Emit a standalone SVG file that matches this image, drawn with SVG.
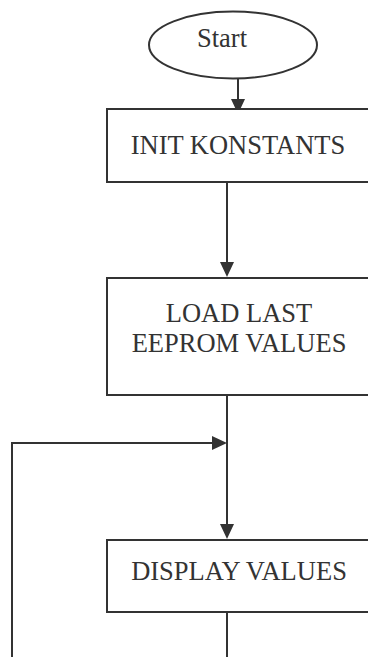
<svg xmlns="http://www.w3.org/2000/svg" width="368" height="657" viewBox="0 0 368 657">
<defs>
<style>
.shape{fill:#fff;stroke:#333;stroke-width:2}
.lbl{font-family:'Liberation Serif','Times New Roman','DejaVu Serif',serif;font-size:26.5px;fill:#333;text-anchor:middle}
.conn{fill:none;stroke:#333;stroke-width:2}
.head{fill:#333;stroke:none}
</style>
</defs>
<rect width="368" height="657" fill="#fff"/>
<g id="connectors">
<line class="conn" x1="238" y1="79" x2="238" y2="104"/>
<polygon class="head" points="231,99 245,99 238,114"/>
<line class="conn" x1="227" y1="182" x2="227" y2="268"/>
<polygon class="head" points="220,262 234,262 227,277"/>
<line class="conn" x1="227" y1="395" x2="227" y2="530"/>
<polygon class="head" points="220,524 234,524 227,539"/>
<polyline class="conn" points="12,657 12,443 215,443"/>
<polygon class="head" points="212,436 212,450 227,443"/>
<line class="conn" x1="227" y1="612" x2="227" y2="657"/>
</g>
<g id="start">
<ellipse class="shape" cx="233" cy="45" rx="84" ry="33.5"/>
<text class="lbl" x="222" y="47">Start</text>
</g>
<g id="init">
<rect class="shape" x="107" y="109" width="280" height="73"/>
<text class="lbl" x="238" y="154">INIT KONSTANTS</text>
</g>
<g id="load">
<rect class="shape" x="107" y="278" width="280" height="117"/>
<text class="lbl" x="239" y="322">LOAD LAST</text>
<text class="lbl" x="239" y="352">EEPROM VALUES</text>
</g>
<g id="display">
<rect class="shape" x="107" y="540" width="280" height="72"/>
<text class="lbl" x="239" y="580">DISPLAY VALUES</text>
</g>
</svg>
